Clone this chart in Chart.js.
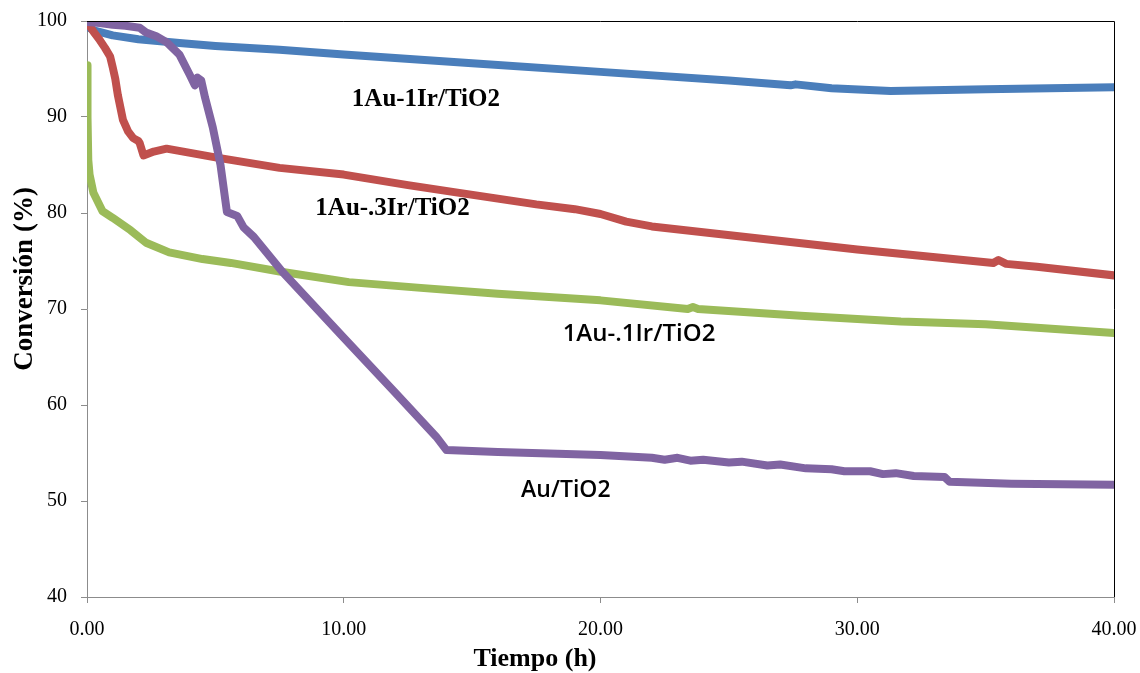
<!DOCTYPE html>
<html>
<head>
<meta charset="utf-8">
<script src="https://cdn.jsdelivr.net/npm/chart.js@4.4.1/dist/chart.umd.min.js"></script>
<style>
  html, body { margin: 0; padding: 0; background: #fff; }
</style>
</head>
<body>
<canvas id="chart" width="1140" height="673"></canvas>
<script>
// Conversión vs tiempo for the four catalysts
const seriesNames = ['1Au-1Ir/TiO2', '1Au-.3Ir/TiO2', '1Au-.1Ir/TiO2', 'Au/TiO2'];
const seriesColors = ['#4A7EBB', '#C0504D', '#9BBB59', '#8064A2'];

const auIr1Time = [0, 0.3, 1, 2, 3.6, 5, 7.5, 10, 15, 20, 25, 27.4, 27.6, 29, 31.3, 35, 40];
const auIr1Conv = [99.4, 99.0, 98.5, 98.1, 97.7, 97.4, 97.0, 96.5, 95.6, 94.7, 93.8, 93.3, 93.4, 93.0, 92.7, 92.9, 93.1];

const auIr03Time = [0, 0.25, 0.5, 0.7, 0.9, 1.0, 1.1, 1.2, 1.4, 1.6, 1.8, 2.0, 2.05, 2.2, 2.6, 3.1, 5, 7.5, 10, 12.5, 14.5, 16, 17.5, 19, 20, 21, 22, 26, 30, 35.3, 35.5, 35.8, 37, 40];
const auIr03Conv = [99.9, 98.9, 98.0, 97.2, 96.3, 95.2, 94.0, 92.3, 89.7, 88.5, 87.8, 87.5, 87.3, 86.0, 86.4, 86.7, 85.8, 84.7, 84.0, 82.9, 82.1, 81.5, 80.9, 80.4, 79.9, 79.1, 78.6, 77.4, 76.2, 74.8, 75.1, 74.7, 74.4, 73.5];

const auIr01Time = [0, 0.02, 0.05, 0.1, 0.25, 0.6, 1.0, 1.7, 2.3, 3.2, 4.5, 5.6, 7.5, 10.2, 13, 16, 20, 23.4, 23.6, 23.8, 27.8, 31.7, 35, 40];
const auIr01Conv = [95.4, 90.0, 85.5, 84.0, 82.1, 80.2, 79.5, 78.2, 76.9, 75.9, 75.2, 74.8, 73.9, 72.8, 72.2, 71.6, 70.9, 70.0, 70.2, 70.0, 69.3, 68.7, 68.4, 67.5];

const auTime = [0, 0.5, 1, 1.5, 2.05, 2.3, 2.7, 3.1, 3.6, 4.0, 4.2, 4.3, 4.45, 4.6, 4.9, 5.2, 5.45, 5.85, 6.1, 6.5, 7.6, 10, 12, 13.6, 14.0, 16, 20, 22, 22.5, 23, 23.5, 24, 25, 25.5, 26.5, 27, 28, 29, 29.5, 30.5, 31, 31.5, 32.2, 33.4, 33.6, 36, 40];
const auConv = [99.9, 99.8, 99.6, 99.5, 99.3, 98.8, 98.4, 97.8, 96.5, 94.4, 93.3, 94.1, 93.8, 92.0, 88.9, 85.0, 80.1, 79.7, 78.5, 77.5, 73.9, 67.0, 61.3, 56.7, 55.3, 55.1, 54.8, 54.5, 54.3, 54.5, 54.2, 54.3, 54.0, 54.1, 53.7, 53.8, 53.4, 53.3, 53.1, 53.1, 52.8, 52.9, 52.6, 52.5, 52.0, 51.8, 51.7];

const xTicks = [0, 10, 20, 30, 40];
const yTicks = [40, 50, 60, 70, 80, 90, 100];

const serif = '"Liberation Serif", "Times New Roman", serif';

// where each series name is written, in data units
const labelSpots = [
  { text: '1Au-1Ir/TiO2', x: 13.2, y: 91.8, font: 'bold 25px ' + serif },
  { text: '1Au-.3Ir/TiO2', x: 11.9, y: 80.5, font: 'bold 25px ' + serif },
  { text: '1Au-.1Ir/TiO2', x: 21.5, y: 67.4, font: '600 24px "Open Sans", sans-serif' },
  { text: 'Au/TiO2', x: 18.65, y: 51.1, font: '600 23px "Open Sans", sans-serif' }
];

const toPoints = (xs, ys) => xs.map((x, i) => ({ x: x, y: ys[i] }));
const allSeries = [
  toPoints(auIr1Time, auIr1Conv),
  toPoints(auIr03Time, auIr03Conv),
  toPoints(auIr01Time, auIr01Conv),
  toPoints(auTime, auConv)
];

// purple on top, blue at the bottom
const drawOrder = [3, 1, 2, 0];

const datasets = allSeries.map((pts, i) => ({
  label: seriesNames[i],
  data: pts,
  borderColor: seriesColors[i],
  backgroundColor: seriesColors[i],
  borderWidth: 8,
  borderCapStyle: 'round',
  borderJoinStyle: 'round',
  pointRadius: 0,
  tension: 0,
  order: drawOrder[i]
}));

// black frame on top and right side of the plot area
const frameLines = {
  id: 'frameLines',
  afterDraw(chart) {
    const { ctx, chartArea } = chart;
    ctx.save();
    ctx.strokeStyle = '#000';
    ctx.lineWidth = 1;
    ctx.beginPath();
    ctx.moveTo(chartArea.left, chartArea.top + 0.5);
    ctx.lineTo(chartArea.right + 0.5, chartArea.top + 0.5);
    ctx.lineTo(chartArea.right + 0.5, chartArea.bottom);
    ctx.stroke();
    ctx.restore();
  }
};

// series names inside the plot, plus the two axis titles
const textLayer = {
  id: 'textLayer',
  afterDatasetsDraw(chart) {
    const { ctx, scales } = chart;
    ctx.save();
    ctx.fillStyle = '#000';
    ctx.textAlign = 'center';
    ctx.textBaseline = 'middle';
    labelSpots.forEach(l => {
      ctx.font = l.font;
      ctx.fillText(l.text, scales.x.getPixelForValue(l.x), scales.y.getPixelForValue(l.y));
    });

    ctx.font = 'bold 26px ' + serif;
    ctx.fillText('Tiempo (h)', 535, 659);

    ctx.translate(25, 279);
    ctx.rotate(-Math.PI / 2);
    ctx.font = 'bold 27px ' + serif;
    ctx.fillText('Conversión (%)', 0, 0);
    ctx.restore();
  }
};

new Chart(document.getElementById('chart'), {
  type: 'line',
  data: { datasets: datasets },
  options: {
    responsive: false,
    animation: false,
    layout: { padding: { top: 21, right: 26, left: 0, bottom: 0 } },
    plugins: {
      legend: { display: false },
      tooltip: { enabled: false }
    },
    scales: {
      x: {
        type: 'linear',
        min: 0,
        max: 40,
        afterBuildTicks: s => { s.ticks = xTicks.map(v => ({ value: v })); },
        afterFit: s => { s.height = 76; s.paddingLeft = 0; s.paddingRight = 0; },
        ticks: {
          padding: 15,
          color: '#000',
          font: { family: serif, size: 20 },
          callback: v => v.toFixed(2)
        },
        grid: { drawOnChartArea: false, drawTicks: true, tickLength: 6, color: '#8c8c8c' },
        border: { color: '#8c8c8c', width: 1 }
      },
      y: {
        min: 40,
        max: 100,
        afterBuildTicks: s => { s.ticks = yTicks.map(v => ({ value: v })); },
        afterFit: s => { s.width = 87; s.paddingTop = 0; s.paddingBottom = 0; },
        ticks: {
          padding: 14,
          color: '#000',
          font: { family: serif, size: 20 }
        },
        grid: { drawOnChartArea: false, drawTicks: true, tickLength: 6, color: '#8c8c8c' },
        border: { color: '#8c8c8c', width: 1 }
      }
    }
  },
  plugins: [frameLines, textLayer]
});
</script>
</body>
</html>
